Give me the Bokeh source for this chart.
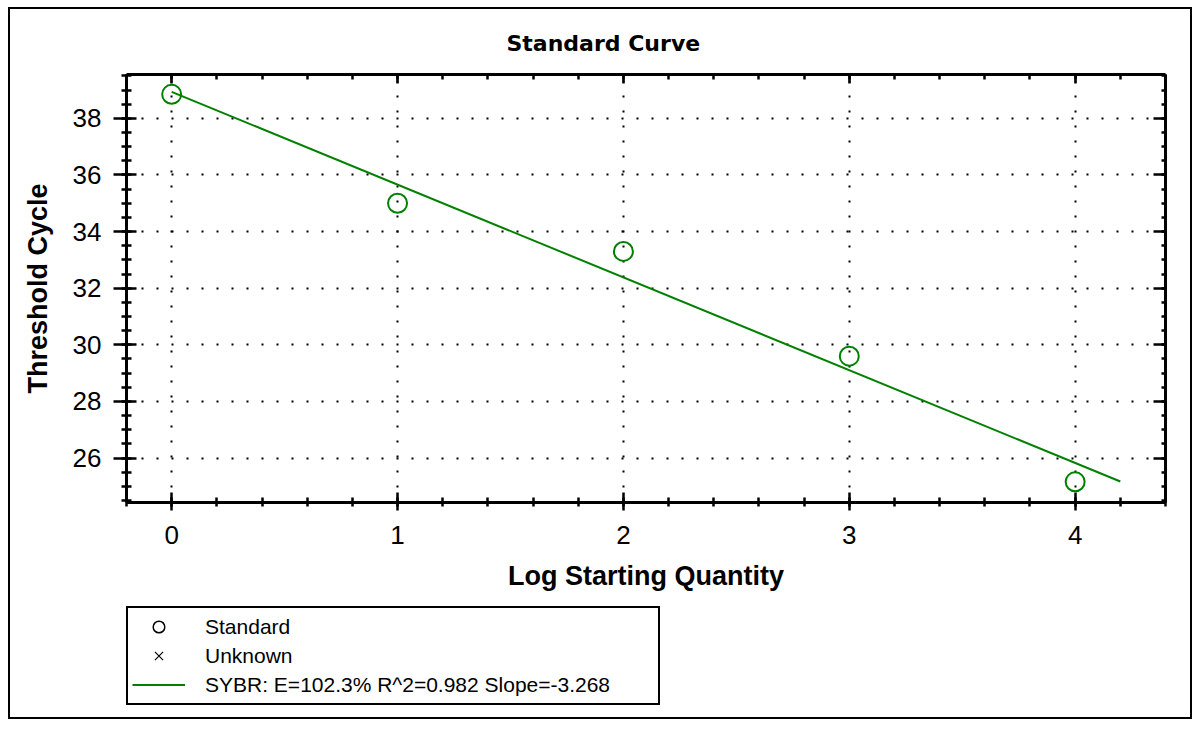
import numpy as np
from bokeh.plotting import figure
from bokeh.layouts import column
from bokeh.models import (Range1d, LinearAxis, SingleIntervalTicker, Legend,
                          LegendItem, ColumnDataSource)
from bokeh.embed import file_html
from bokeh.resources import INLINE

# ---- data ----
log_qty = [0, 1, 2, 3, 4]
threshold_cycle = [38.85, 35.0, 33.3, 29.6, 25.16]
fit_x = [0, 4.2]
legend_labels = ["Standard", "Unknown", "SYBR: E=102.3% R^2=0.982 Slope=-3.268"]
title_text = "Standard Curve"
x_label = "Log Starting Quantity"
y_label = "Threshold Cycle"

slope, intercept = np.polyfit(log_qty, threshold_cycle, 1)
fit_y = [slope * x + intercept for x in fit_x]

GREEN = "#008000"
LAB_FONT = "Liberation Sans"

p = figure(width=1180, height=596, output_backend="svg", toolbar_location=None,
           x_range=Range1d(-0.2, 4.4), y_range=Range1d(24.43, 39.55),
           min_border_left=116, min_border_right=25, min_border_top=64,
           min_border_bottom=103)
p.outline_line_color = None
p.background_fill_color = "white"
p.border_fill_color = "white"

p.title.text = title_text
p.title.align = "left"
p.title.offset = 380
p.title.text_font = "DejaVu Sans"
p.title.text_font_style = "bold"
p.title.text_font_size = "22px"
p.title.text_color = "black"
p.title.standoff = 38

xticker = SingleIntervalTicker(interval=1, num_minor_ticks=5)
yticker = SingleIntervalTicker(interval=2, num_minor_ticks=4)

xa = p.xaxis[0]
xa.ticker = xticker
xa.axis_label = x_label
ya = p.yaxis[0]
ya.ticker = yticker
ya.axis_label = y_label

for ax in (xa, ya):
    ax.axis_line_width = 3
    ax.axis_line_color = "black"
    ax.major_tick_line_width = 2.5
    ax.minor_tick_line_width = 2.5
    ax.major_tick_line_color = "black"
    ax.minor_tick_line_color = "black"
    ax.major_label_text_font = LAB_FONT
    ax.major_label_text_font_size = "26px"
    ax.major_label_text_color = "black"
    ax.axis_label_text_font = LAB_FONT
    ax.axis_label_text_font_size = "27px"
    ax.axis_label_text_font_style = "bold"
    ax.axis_label_text_color = "black"

xa.major_tick_in, xa.major_tick_out = 10, 8
xa.minor_tick_in, xa.minor_tick_out = 5, 4
xa.major_label_standoff = 15
xa.axis_label_standoff = 14

ya.major_tick_in, ya.major_tick_out = 10, 13
ya.minor_tick_in, ya.minor_tick_out = 5, 5
ya.major_label_standoff = 12
ya.axis_label_standoff = 17

top = LinearAxis(ticker=xticker, major_label_text_font_size="0px",
                 major_label_standoff=0, major_tick_in=9, major_tick_out=0,
                 minor_tick_in=5, minor_tick_out=0)
right = LinearAxis(ticker=yticker, major_label_text_font_size="0px",
                   major_label_standoff=0, major_tick_in=12, major_tick_out=0,
                   minor_tick_in=4, minor_tick_out=0)
for ax in (top, right):
    ax.axis_line_width = 3
    ax.major_tick_line_width = 2.5
    ax.minor_tick_line_width = 2.5
    ax.axis_line_color = "black"
p.add_layout(top, "above")
p.add_layout(right, "right")

p.xgrid.ticker = xticker
p.ygrid.ticker = yticker
for g in (p.xgrid, p.ygrid):
    g.grid_line_color = "black"
    g.grid_line_width = 2
    g.grid_line_dash = "2 13"

p.line(fit_x, fit_y, line_color=GREEN, line_width=2)
src = ColumnDataSource(dict(x=log_qty, y=threshold_cycle))
p.scatter("x", "y", source=src, marker="circle", size=19, line_color=GREEN,
          line_width=2, fill_color=None)

# ---- legend strip below the chart ----
# Its ranges do not reach the data, so its renderers only show as legend swatches.
q = figure(width=1180, height=112, output_backend="svg", toolbar_location=None,
           x_range=Range1d(100, 101), y_range=Range1d(100, 101),
           x_axis_location=None, y_axis_location=None,
           min_border=0)
q.outline_line_color = None
q.grid.visible = False
q.border_fill_color = "white"
q.background_fill_color = "white"

src_q = ColumnDataSource(dict(x=log_qty, y=threshold_cycle))
fit_src_q = ColumnDataSource(dict(x=fit_x, y=fit_y))
r_std = q.scatter("x", "y", source=src_q, marker="circle", size=14,
                  line_color="black", line_width=1.5, fill_color=None)
r_unk = q.scatter("x", "y", source=src_q, marker="x", size=18,
                  line_color="black", line_width=1.2)
r_fit = q.line("x", "y", source=fit_src_q, line_color=GREEN, line_width=2)

legend = Legend(items=[LegendItem(label=legend_labels[0], renderers=[r_std]),
                       LegendItem(label=legend_labels[1], renderers=[r_unk]),
                       LegendItem(label=legend_labels[2], renderers=[r_fit])],
                location=(0, 12), border_line_color="black",
                border_line_alpha=1, border_line_width=2,
                padding=4, spacing=0, margin=0,
                glyph_width=53, glyph_height=29, label_height=29,
                label_standoff=20, label_width=449,
                label_text_font=LAB_FONT, label_text_font_size="21px",
                label_text_color="black", background_fill_alpha=1)
q.add_layout(legend)

layout = column(p, q, spacing=0)
layout.margin = (9, 10, 0, 10)
layout.styles = {"box-shadow": "0 0 0 2px black"}

open("out.html", "w").write(file_html(layout, INLINE))
